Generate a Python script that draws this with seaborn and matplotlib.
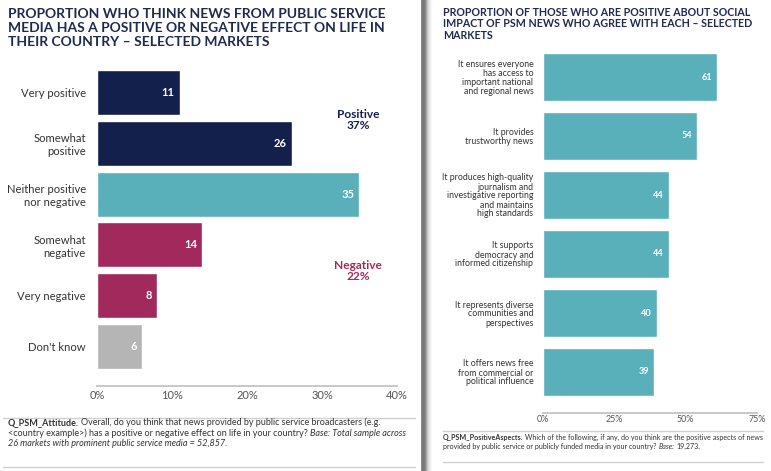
import matplotlib
matplotlib.use("Agg")
import matplotlib.pyplot as plt
import matplotlib.transforms as mtransforms
from matplotlib.patches import Rectangle
from matplotlib.lines import Line2D
import seaborn as sns

# ── Data ──────────────────────────────────────────────────────────────────────
effect_labels = ["Very positive", "Somewhat\npositive", "Neither positive\nnor negative",
                 "Somewhat\nnegative", "Very negative", "Don't know"]
effect_values = [11, 26, 35, 14, 8, 6]
effect_ticks = [0, 10, 20, 30, 40]

aspect_labels = [
    "It ensures everyone\nhas access to\nimportant national\nand regional news",
    "It provides\ntrustworthy news",
    "It produces high-quality\njournalism and\ninvestigative reporting\nand maintains\nhigh standards",
    "It supports\ndemocracy and\ninformed citizenship",
    "It represents diverse\ncommunities and\nperspectives",
    "It offers news free\nfrom commercial or\npolitical influence",
]
aspect_values = [61, 54, 44, 44, 40, 39]
aspect_ticks = [0, 25, 50, 75]

# ── Style ─────────────────────────────────────────────────────────────────────
NAVY = "#13204b"
TEAL = "#59b0bb"
PLUM = "#a2295b"
GREY = "#b5b5b5"
TITLE = "#1f2a4f"
TEXT = "#333333"
RULE = "#d0d0d0"

sns.set_theme(style="white")
plt.rcParams["font.family"] = ["Lato", "DejaVu Sans"]

W, H = 771, 471
fig = plt.figure(figsize=(W / 100, H / 100), dpi=100)
fig.patch.set_facecolor("white")


def px_axes(x0, y0, x1, y1):
    return fig.add_axes([x0 / W, 1 - y1 / H, (x1 - x0) / W, (y1 - y0) / H])


def hline(x0, x1, y, color=RULE, lw=1.0):
    fig.add_artist(Line2D([x0 / W, x1 / W], [1 - y / H, 1 - y / H],
                          color=color, lw=lw, transform=fig.transFigure))


def rich_line(x, y, parts, size):
    # parts: list of (text, weight, style); drawn left to right at pixel position
    r = fig.canvas.get_renderer()
    probe = fig.text(0, 0, "a a", fontsize=size)
    probe2 = fig.text(0, 0, "aa", fontsize=size)
    space = probe.get_window_extent(r).width - probe2.get_window_extent(r).width
    probe.remove(); probe2.remove()
    for txt, weight, style in parts:
        t = fig.text(x / W, 1 - y / H, txt, fontsize=size, fontweight=weight,
                     fontstyle=style, color=TEXT, va="center", ha="left")
        x += t.get_window_extent(r).width + space


def style_axes(ax, ticks, xmax, fs_tick, fs_lab, offset, pad, xpad):
    ax.set_xlim(0, xmax)
    ax.set_xticks(ticks)
    ax.set_xticklabels([f"{t}%" for t in ticks])
    ax.tick_params(axis="x", length=0, pad=xpad, labelsize=fs_tick, labelcolor="#555555")
    ax.tick_params(axis="y", length=0, pad=pad, labelsize=fs_lab, labelcolor=TEXT)
    ax.set_xlabel("")
    ax.set_ylabel("")
    for s in ["top", "right", "left"]:
        ax.spines[s].set_visible(False)
    ax.spines["bottom"].set_position(("outward", offset))
    ax.spines["bottom"].set_color("#c8c8c8")
    ax.spines["bottom"].set_linewidth(1.4)
    ax.set_facecolor("none")
    ax.grid(False)


def value_labels(ax, values, fs):
    shift = mtransforms.offset_copy(ax.transData, fig=fig, x=-5, y=0, units="dots")
    for i, v in enumerate(values):
        ax.text(v, i, str(v), transform=shift, ha="right", va="center",
                color="white", fontsize=fs, fontweight="bold")


# ── Left panel ────────────────────────────────────────────────────────────────
fig.text(8 / W, 1 - 8 / H,
         "PROPORTION WHO THINK NEWS FROM PUBLIC SERVICE\n"
         "MEDIA HAS A POSITIVE OR NEGATIVE EFFECT ON LIFE IN\n"
         "THEIR COUNTRY – SELECTED MARKETS",
         fontsize=10.0, fontweight="bold", color=TITLE, va="top", ha="left",
         linespacing=1.2)

ax1 = px_axes(97, 67, 397, 372)
effect_colors = [NAVY, NAVY, TEAL, PLUM, PLUM, GREY]
sns.barplot(x=effect_values, y=effect_labels, hue=effect_labels, palette=effect_colors,
            legend=False, saturation=1, width=0.885, orient="h", ax=ax1)
style_axes(ax1, effect_ticks, 40, 8.0, 8.1, 10, 8, 3)
for lab in ax1.get_yticklabels():
    lab.set_horizontalalignment("right")
value_labels(ax1, effect_values, 8)

pos_total = sum(effect_values[:2])
neg_total = sum(effect_values[3:5])
ax1.text(34.8, 0.55, f"Positive\n{pos_total}%", ha="center", va="center",
         color=NAVY, fontsize=8.6, fontweight="bold", linespacing=1.0)
ax1.text(34.8, 3.52, f"Negative\n{neg_total}%", ha="center", va="center",
         color=PLUM, fontsize=8.6, fontweight="bold", linespacing=1.0)

hline(3, 415, 418)
hline(3, 415, 467)
rich_line(8, 422.5, [("Q_PSM_Attitude.", "bold", "normal"),
                     ("Overall, do you think that news provided by public service broadcasters (e.g.",
                      "normal", "normal")], 6.45)
rich_line(8, 433, [("<country example>) has a positive or negative effect on life in your country?",
                    "normal", "normal"),
                   ("Base: Total sample across", "normal", "italic")], 6.45)
rich_line(8, 443.5, [("26 markets with prominent public service media = 52,857.", "normal", "italic")], 6.45)

# ── Gutter ────────────────────────────────────────────────────────────────────
gutter = [(421, "#8a8a8a"), (422, "#7a7a7a"), (423, "#777777"), (424, "#7c7c7c"),
          (425, "#8c8c8c"), (426, "#a8a8a8"), (427, "#c4c4c4"), (428, "#d8d8d8"),
          (429, "#e6e6e6"), (430, "#f0f0f0"), (431, "#f7f7f7")]
for gx, gc in gutter:
    fig.add_artist(Rectangle((gx / W, 0), 1 / W, 1, color=gc, lw=0,
                             transform=fig.transFigure))

# ── Right panel ───────────────────────────────────────────────────────────────
fig.text(443 / W, 1 - 7 / H,
         "PROPORTION OF THOSE WHO ARE POSITIVE ABOUT SOCIAL\n"
         "IMPACT OF PSM NEWS WHO AGREE WITH EACH – SELECTED\n"
         "MARKETS",
         fontsize=7.7, fontweight="bold", color=TITLE, va="top", ha="left",
         linespacing=1.05)

ax2 = px_axes(543, 47.5, 757, 401.5)
sns.barplot(x=aspect_values, y=aspect_labels, hue=aspect_labels,
            palette=[TEAL] * len(aspect_labels), legend=False, saturation=1,
            width=0.81, orient="h", ax=ax2)
style_axes(ax2, aspect_ticks, 75, 6.4, 6.3, 8, 7, 2)
for lab in ax2.get_yticklabels():
    lab.set_horizontalalignment("right")
    lab.set_linespacing(1.0)
value_labels(ax2, aspect_values, 6.6)

hline(443, 763, 431)
hline(443, 763, 462)
rich_line(443, 437.5, [("Q_PSM_PositiveAspects.", "bold", "normal"),
                       ("Which of the following, if any, do you think are the positive aspects of news",
                        "normal", "normal")], 5.15)
rich_line(443, 446.5, [("provided by public service or publicly funded media in your country?",
                        "normal", "normal"),
                       ("Base:", "normal", "italic"), ("19,273.", "normal", "normal")], 5.15)

fig.savefig("out.png", dpi=100, facecolor="white")
